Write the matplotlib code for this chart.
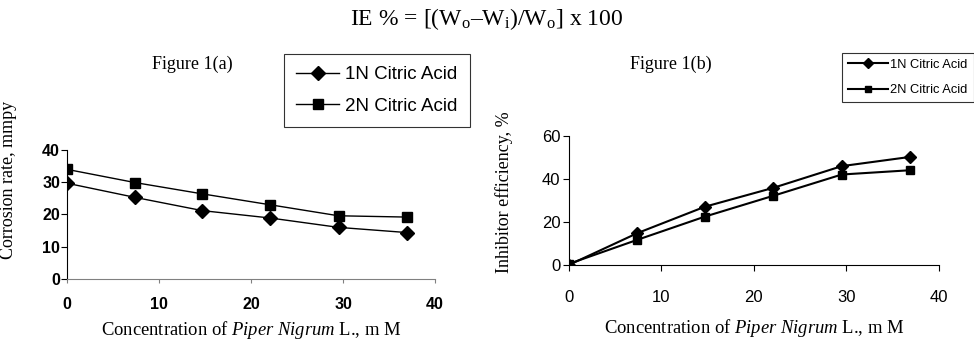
import matplotlib.pyplot as plt

plt.rcParams['mathtext.fontset'] = 'custom'
plt.rcParams['mathtext.rm'] = 'Liberation Serif'
plt.rcParams['mathtext.it'] = 'Liberation Serif:italic'

# ============================================================
# Data
# ============================================================
conc = [0, 7.4, 14.7, 22.1, 29.5, 36.9]

corr_1n = [29.7, 25.3, 21.2, 18.9, 16.0, 14.4]
corr_2n = [34.0, 29.9, 26.4, 23.0, 19.6, 19.2]

ie_1n = [0, 14.8, 27.1, 35.9, 46.0, 50.3]
ie_2n = [0.5, 11.7, 22.5, 32.2, 42.1, 44.1]

labels = ['1N Citric Acid', '2N Citric Acid']
xticks = [0, 10, 20, 30, 40]

SERIF = 'Liberation Serif'
SANS  = 'Liberation Sans'
xlabel = r'Concentration of $\it{Piper\ Nigrum}$ L., m M'

fig = plt.figure(figsize=(9.74, 3.41), dpi=100)
fig.text(0.5, 0.945, r'IE % = [(W$_{\rm o}$–W$_{\rm i}$)/W$_{\rm o}$] x 100',
         ha='center', va='center', family=SERIF, fontsize=17)

# ============================================================
# Figure 1(a)
# ============================================================
ax1 = fig.add_axes([0.0688, 0.182, 0.378, 0.378])
ax1.plot(conc, corr_1n, '-D', color='black', lw=1, ms=7, label=labels[0])
ax1.plot(conc, corr_2n, '-s', color='black', lw=1, ms=6.5, label=labels[1])
ax1.set_xlim(0, 40)
ax1.set_ylim(0, 40)
ax1.set_xticks(xticks)
ax1.set_yticks([0, 10, 20, 30, 40])
for s in ['top', 'right']:
    ax1.spines[s].set_visible(False)
ax1.spines['bottom'].set_color('#808080')
ax1.tick_params(axis='x', colors='#808080', length=3, labelcolor='black', pad=10)
ax1.tick_params(axis='y', length=4, pad=1)
for t in ax1.get_xticklabels() + ax1.get_yticklabels():
    t.set_fontweight('bold')
    t.set_fontfamily(SANS)
    t.set_fontsize(11.5)
ax1.set_xlabel(xlabel, family=SERIF, fontsize=13.4, labelpad=5)
ax1.set_ylabel('Corrosion rate, mmpy', family=SERIF, fontsize=13)
ax1.yaxis.set_label_coords(-0.135, 0.77)
fig.text(0.197, 0.812, 'Figure 1(a)', ha='center', va='center',
         family=SERIF, fontsize=13)
leg1 = ax1.legend(loc='upper left', bbox_to_anchor=(0.2916, 0.8416),
                  bbox_transform=fig.transFigure, borderaxespad=0,
                  prop={'family': SANS, 'size': 13.5},
                  frameon=True, fancybox=False, edgecolor='black',
                  handlelength=2.3, handletextpad=0.3, borderpad=0.65,
                  labelspacing=0.75)
leg1.get_frame().set_linewidth(0.8)

# ============================================================
# Figure 1(b)
# ============================================================
ax2 = fig.add_axes([0.584, 0.223, 0.380, 0.378])
ax2.plot(conc, ie_1n, '-D', color='black', lw=1.5, ms=6, label=labels[0])
ax2.plot(conc, ie_2n, '-s', color='black', lw=1.5, ms=6, label=labels[1])
ax2.set_xlim(0, 40)
ax2.set_ylim(0, 60)
ax2.set_xticks(xticks)
ax2.set_yticks([0, 20, 40, 60])
for s in ['top', 'right']:
    ax2.spines[s].set_visible(False)
ax2.tick_params(axis='x', length=4, pad=14)
ax2.tick_params(axis='y', length=4, pad=2)
for t in ax2.get_xticklabels() + ax2.get_yticklabels():
    t.set_fontfamily(SANS)
    t.set_fontsize(12)
ax2.set_xlabel(xlabel, family=SERIF, fontsize=13.4, labelpad=9)
ax2.set_ylabel('Inhibitor efficiency, %', family=SERIF, fontsize=13)
ax2.yaxis.set_label_coords(-0.15, 0.566)
fig.text(0.689, 0.81, 'Figure 1(b)', ha='center', va='center',
         family=SERIF, fontsize=13)
leg2 = ax2.legend(loc='upper left', bbox_to_anchor=(0.8645, 0.8446),
                  bbox_transform=fig.transFigure, borderaxespad=0,
                  prop={'family': SANS, 'size': 9.3},
                  frameon=True, fancybox=False, edgecolor='black',
                  handlelength=3.1, handletextpad=0.2, borderpad=0.45,
                  labelspacing=1.05, markerscale=0.8)
leg2.get_frame().set_linewidth(0.8)

plt.savefig('out.png', dpi=100)
